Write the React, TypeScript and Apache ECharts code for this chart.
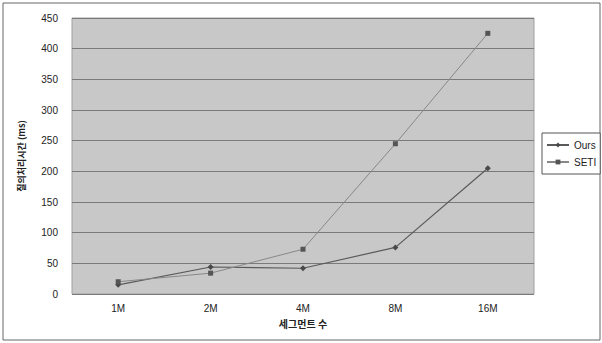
import React, { useEffect, useRef } from "react";
import * as echarts from "echarts";

const categories = ["1M", "2M", "4M", "8M", "16M"];
const oursValues = [15, 44, 42, 76, 205];
const setiValues = [20, 34, 73, 245, 425];
const seriesNames = ["Ours", "SETI"];
const yAxisTitle = "질의처리시간 (ms)";
const xAxisTitle = "세그먼트 수";

export default function App() {
  const ref = useRef<HTMLDivElement>(null);
  useEffect(() => {
    if (!ref.current) return;
    const chart = echarts.init(ref.current, undefined, { renderer: "svg" });
    const font = "Liberation Sans, Arial, sans-serif";
    chart.setOption({
      animation: false,
      backgroundColor: "#ffffff",
      textStyle: { fontFamily: font },
      grid: { left: 72, right: 68, top: 18, bottom: 49, show: true, backgroundColor: "#c8c8c8", borderColor: "#a0a0a0", borderWidth: 1 },
      legend: {
        orient: "vertical",
        left: 542,
        top: 133,
        padding: [7, 4, 7, 4],
        itemGap: 7,
        itemWidth: 22,
        itemHeight: 6,
        borderColor: "#555",
        borderWidth: 1,
        backgroundColor: "#fff",
        textStyle: { fontSize: 10, color: "#222", fontFamily: font },
        data: seriesNames,
      },
      xAxis: {
        type: "category",
        data: categories,
        boundaryGap: true,
        name: xAxisTitle,
        nameLocation: "middle",
        nameGap: 24,
        nameTextStyle: { fontSize: 10, fontWeight: "bold", color: "#222", fontFamily: "Noto Sans CJK KR, sans-serif" },
        axisLine: { show: false },
        axisTick: { show: false },
        axisLabel: { fontSize: 10, color: "#222", margin: 9 },
        splitLine: { show: false },
      },
      yAxis: {
        type: "value",
        min: 0,
        max: 450,
        interval: 50,
        name: yAxisTitle,
        nameLocation: "middle",
        nameGap: 46,
        nameTextStyle: { fontSize: 9, fontWeight: "bold", color: "#222", fontFamily: "Noto Sans CJK KR, sans-serif" },
        axisLine: { show: false },
        axisTick: { show: false },
        axisLabel: { fontSize: 10, color: "#222", margin: 14 },
        splitLine: { show: true, lineStyle: { color: "#7a7a7a", width: 1 } },
      },
      series: [
        {
          name: seriesNames[0],
          type: "line",
          data: oursValues,
          symbol: "diamond",
          symbolSize: 6,
          itemStyle: { color: "#4a4a4a" },
          lineStyle: { color: "#5a5a5a", width: 1.2 },
        },
        {
          name: seriesNames[1],
          type: "line",
          data: setiValues,
          symbol: "rect",
          symbolSize: 5,
          itemStyle: { color: "#555" },
          lineStyle: { color: "#888", width: 1 },
        },
      ],
      graphic: [
        {
          type: "rect",
          shape: { x: 3, y: 3, width: 597, height: 337 },
          style: { fill: "none", stroke: "#666", lineWidth: 1 },
          z: -1,
        },
      ],
    });
    return () => chart.dispose();
  }, []);
  return <div ref={ref} style={{ position: "fixed", left: 0, top: 0, width: 602, height: 343 }} />;
}
